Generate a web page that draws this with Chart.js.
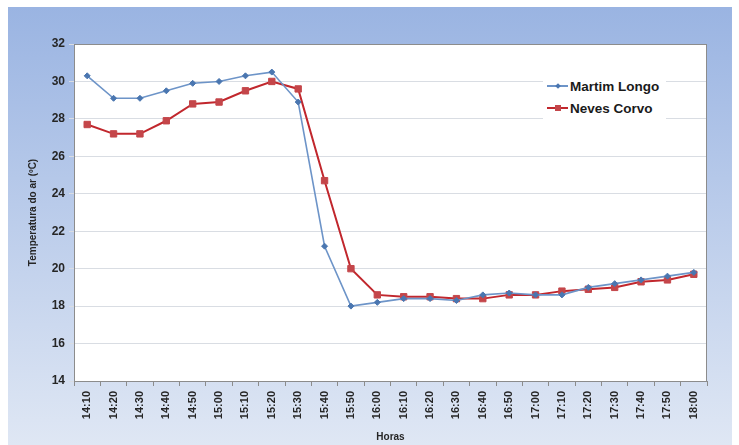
<!DOCTYPE html>
<html>
<head>
<meta charset="utf-8">
<script src="https://cdn.jsdelivr.net/npm/chart.js@4.4.1/dist/chart.umd.min.js"></script>
<style>
  body { margin: 0; background: #fff; }
  #wrap { position: relative; width: 739px; height: 445px; }
  #bg { position: absolute; left: 8px; top: 7px; width: 724px; height: 438px;
        background: linear-gradient(#9ab4e2, #dfe7f4); }
  #chart { position: absolute; left: 0; top: 0; }
  #legend { position: absolute; left: 543px; top: 74px; background: #fff;
            padding: 1px 7px 1px 4px;
            font: bold 13.5px 'Liberation Sans', Arial, sans-serif; color: #1a1a1a; }
  .item { display: flex; align-items: center; height: 22px; }
  .swatch { position: relative; width: 21px; height: 10px; margin-right: 2px; }
  .swatch .ln { position: absolute; left: 0; right: 0; top: 4px; height: 2px; }
  .swatch .mk { position: absolute; left: 50%; top: 50%; }
</style>
</head>
<body>
<div id="wrap">
  <div id="bg"></div>
  <canvas id="chart" width="739" height="445"></canvas>
  <div id="legend"></div>
</div>
<script>
const horas = ['14:10', '14:20', '14:30', '14:40', '14:50', '15:00', '15:10', '15:20',
  '15:30', '15:40', '15:50', '16:00', '16:10', '16:20', '16:30', '16:40', '16:50',
  '17:00', '17:10', '17:20', '17:30', '17:40', '17:50', '18:00'];

const martimLongo = [30.3, 29.1, 29.1, 29.5, 29.9, 30.0, 30.3, 30.5, 28.9, 21.2, 18.0, 18.2,
  18.4, 18.4, 18.3, 18.6, 18.7, 18.6, 18.6, 19.0, 19.2, 19.4, 19.6, 19.8];

const nevesCorvo = [27.7, 27.2, 27.2, 27.9, 28.8, 28.9, 29.5, 30.0, 29.6, 24.7, 20.0, 18.6,
  18.5, 18.5, 18.4, 18.4, 18.6, 18.6, 18.8, 18.9, 19.0, 19.3, 19.4, 19.7];

const font = "'Liberation Sans', Arial, sans-serif";

// white plot area with grey frame
const plotArea = {
  id: 'plotArea',
  beforeDraw(chart) {
    const { ctx, chartArea: a } = chart;
    ctx.save();
    ctx.fillStyle = '#ffffff';
    ctx.fillRect(a.left, a.top, a.width, a.height);
    ctx.restore();
  },
  beforeDatasetsDraw(chart) {
    const { ctx, chartArea: a } = chart;
    ctx.save();
    ctx.strokeStyle = '#8c8c8c';
    ctx.lineWidth = 1;
    ctx.strokeRect(a.left + 0.5, a.top + 0.5, a.width - 1, a.height);
    ctx.restore();
  }
};

const chart = new Chart(document.getElementById('chart'), {
  type: 'line',
  data: {
    labels: horas,
    datasets: [{
      label: 'Martim Longo',
      data: martimLongo,
      borderColor: '#6d94c8',
      borderWidth: 1.6,
      backgroundColor: '#4a76b0',
      pointBackgroundColor: '#4a76b0',
      pointBorderColor: '#4a76b0',
      pointStyle: 'rectRot',
      pointRadius: 3,
      pointBorderWidth: 1,
      tension: 0
    }, {
      label: 'Neves Corvo',
      data: nevesCorvo,
      borderColor: '#c1272d',
      borderWidth: 2,
      backgroundColor: '#c4464a',
      pointBackgroundColor: '#c4464a',
      pointBorderColor: '#c4464a',
      pointStyle: 'rect',
      pointRadius: 4.5,
      pointBorderWidth: 1,
      tension: 0
    }]
  },
  options: {
    responsive: false,
    animation: false,
    layout: { padding: { left: 0, top: 44, right: 32, bottom: 0 } },
    plugins: {
      legend: { display: false },
      tooltip: { enabled: false }
    },
    scales: {
      x: {
        offset: true,
        afterFit(scale) { scale.height = 64; },
        grid: { offset: true, drawOnChartArea: false, drawTicks: true, tickLength: 5, color: '#8c8c8c' },
        border: { color: '#8c8c8c' },
        ticks: {
          autoSkip: false, minRotation: 90, maxRotation: 90, padding: 5,
          color: '#262626', font: { family: font, size: 11, weight: 'bold' }
        },
        title: {
          display: true, text: 'Horas', color: '#262626',
          font: { family: font, size: 10, weight: 'bold' },
          padding: { top: 0, bottom: 2 }
        }
      },
      y: {
        min: 14, max: 32,
        afterFit(scale) { scale.width = 74; },
        grid: { color: '#d9dde3', tickLength: 5 },
        border: { color: '#8c8c8c' },
        ticks: {
          stepSize: 2, padding: 4,
          color: '#262626', font: { family: font, size: 12, weight: 'bold' }
        },
        title: {
          display: true, text: 'Temperatura do ar (ºC)', color: '#262626',
          font: { family: font, size: 10, weight: 'bold' },
          padding: { top: 27, bottom: 0 }
        }
      }
    }
  },
  plugins: [plotArea]
});

// legend built from the datasets
const legendEl = document.getElementById('legend');
chart.data.datasets.forEach(ds => {
  const item = document.createElement('div');
  item.className = 'item';
  const sw = document.createElement('span');
  sw.className = 'swatch';
  const ln = document.createElement('span');
  ln.className = 'ln';
  ln.style.background = ds.borderColor;
  const mk = document.createElement('span');
  mk.className = 'mk';
  const s = ds.pointStyle === 'rect' ? 6 : 4;
  mk.style.width = s + 'px';
  mk.style.height = s + 'px';
  mk.style.marginLeft = (-s / 2) + 'px';
  mk.style.marginTop = (-s / 2) + 'px';
  mk.style.background = ds.pointBackgroundColor;
  if (ds.pointStyle === 'rectRot') mk.style.transform = 'rotate(45deg)';
  sw.appendChild(ln);
  sw.appendChild(mk);
  const txt = document.createElement('span');
  txt.textContent = ds.label;
  item.appendChild(sw);
  item.appendChild(txt);
  legendEl.appendChild(item);
});
</script>
</body>
</html>
